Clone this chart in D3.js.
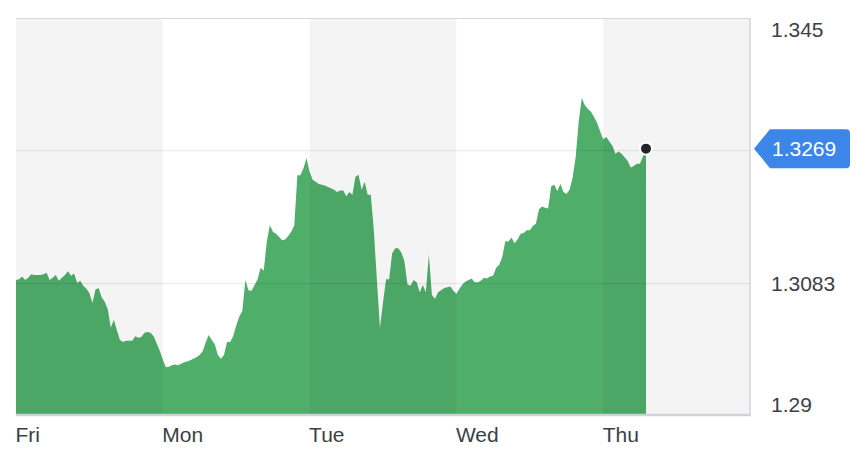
<!DOCTYPE html>
<html>
<head>
<meta charset="utf-8">
<script src="https://cdn.jsdelivr.net/npm/d3@7/dist/d3.min.js"></script>
<style>
  html, body { margin: 0; padding: 0; background: #fff; }
  svg { display: block; font-family: "Helvetica Neue", Helvetica, Arial, "Liberation Sans", sans-serif; }
</style>
</head>
<body>
<svg id="chart" width="868" height="462"></svg>
<script>
// ---- data ----
const dayLabels = ["Fri", "Mon", "Tue", "Wed", "Thu"];
const dayStarts = [0, 48, 96, 144, 192]; // in half-hour steps
const yTicks = [1.29, 1.30833, 1.32667, 1.345];
const yTickLabels = ["1.29", "1.3083", "", "1.345"];
const lastLabel = "1.3269";
// GBP/USD, one value every half hour
const rate = [
  1.3087,1.3088,1.3092,1.3087,1.3090,1.3095,1.3094,1.3094,1.3094,1.3095,
  1.3097,1.3087,1.3090,1.3094,1.3086,1.3090,1.3094,1.3099,1.3093,1.3096,
  1.3083,1.3086,1.3079,1.3075,1.3069,1.3055,1.3074,1.3076,1.3063,1.3057,
  1.3047,1.3021,1.3032,1.3017,1.3004,1.3001,1.3003,1.3003,1.3003,1.3009,
  1.3007,1.3008,1.3014,1.3015,1.3014,1.3009,1.2999,1.2989,1.2977,1.2966,
  1.2967,1.2969,1.2970,1.2969,1.2971,1.2973,1.2974,1.2976,1.2978,1.2980,
  1.2983,1.2988,1.3000,1.3011,1.3004,1.2998,1.2983,1.2978,1.2983,1.3001,
  1.3001,1.3009,1.3024,1.3036,1.3044,1.3087,1.3073,1.3072,1.3080,1.3088,
  1.3104,1.3100,1.3140,1.3163,1.3154,1.3151,1.3147,1.3142,1.3143,1.3148,
  1.3154,1.3163,1.3232,1.3232,1.3242,1.3256,1.3237,1.3226,1.3223,1.3220,
  1.3219,1.3218,1.3216,1.3214,1.3212,1.3209,1.3211,1.3211,1.3203,1.3209,
  1.3205,1.3230,1.3233,1.3212,1.3223,1.3205,1.3205,1.3156,1.3087,1.3021,
  1.3056,1.3088,1.3088,1.3124,1.3131,1.3131,1.3125,1.3113,1.3081,1.3079,
  1.3087,1.3084,1.3070,1.3080,1.3070,1.3122,1.3066,1.3061,1.3070,1.3073,
  1.3076,1.3077,1.3078,1.3072,1.3068,1.3075,1.3081,1.3085,1.3087,1.3089,
  1.3084,1.3084,1.3086,1.3090,1.3089,1.3092,1.3093,1.3104,1.3108,1.3119,
  1.3141,1.3140,1.3146,1.3138,1.3143,1.3151,1.3152,1.3156,1.3156,1.3162,
  1.3165,1.3185,1.3189,1.3187,1.3186,1.3217,1.3219,1.3210,1.3220,1.3209,
  1.3206,1.3212,1.3229,1.3257,1.3307,1.3339,1.3329,1.3324,1.3320,1.3313,
  1.3305,1.3293,1.3282,1.3285,1.3279,1.3273,1.3262,1.3265,1.3262,1.3257,
  1.3252,1.3243,1.3245,1.3248,1.3248,1.3258,1.3269
];

(function () {
// ---- layout ----
const pL = 16, pR = 750, pT = 18, pB = 415;
const FONT = "\"Helvetica Neue\", Helvetica, Arial, \"Liberation Sans\", sans-serif";
const svg = d3.select("#chart");
const x = d3.scaleLinear().domain([0, 240]).range([pL, pR]);
const y = d3.scaleLinear().domain([1.29, 1.345]).range([pB, pT]);

// area
const area = d3.area()
  .x((d, i) => x(i))
  .y0(y(1.29))
  .y1(d => y(d))
  .curve(d3.curveLinear);
svg.append("path").datum(rate)
  .attr("d", area)
  .attr("fill", "#50ae6b");

// alternating day bands (overlay)
svg.append("g").selectAll("rect")
  .data(dayStarts.filter((d, i) => i % 2 === 0))
  .join("rect")
  .attr("x", d => x(d))
  .attr("y", pT)
  .attr("width", d => x(d + 48) - x(d))
  .attr("height", pB - pT)
  .attr("fill", "rgba(0,0,0,0.045)");

// gridlines
svg.append("g").selectAll("line")
  .data(yTicks.slice(1, 3))
  .join("line")
  .attr("x1", pL).attr("x2", pR)
  .attr("y1", d => Math.round(y(d)) + 0.5).attr("y2", d => Math.round(y(d)) + 0.5)
  .attr("stroke", "rgba(0,0,0,0.07)")
  .attr("stroke-width", 1.5);

// frame lines
svg.append("line").attr("x1", pL).attr("x2", pR).attr("y1", pT + 0.5).attr("y2", pT + 0.5)
  .attr("stroke", "#d6d8dd").attr("stroke-width", 1);
svg.append("line").attr("x1", pR).attr("x2", pR).attr("y1", pT).attr("y2", pB + 1)
  .attr("stroke", "#d3d6dc").attr("stroke-width", 1.5);
svg.append("line").attr("x1", pL).attr("x2", pR + 0.75).attr("y1", pB).attr("y2", pB)
  .attr("stroke", "#d0d3d9").attr("stroke-width", 2.5);

// x axis (day labels)
const xAxis = d3.axisBottom(x)
  .tickValues(dayStarts)
  .tickFormat((d, i) => dayLabels[i])
  .tickSize(0)
  .tickPadding(0);
const gx = svg.append("g").attr("transform", `translate(0,${pB})`).call(xAxis);
gx.select(".domain").remove();
gx.selectAll("text")
  .attr("text-anchor", "start")
  .attr("dy", null)
  .attr("y", 27)
  .attr("x", -1)
  .attr("fill", "#3b3f46")
  .style("font-size", "21px")
  .style("font-family", FONT);

// y axis (right)
const yAxis = d3.axisRight(y)
  .tickValues(yTicks)
  .tickFormat((d, i) => yTickLabels[i])
  .tickSize(0)
  .tickPadding(0);
const gy = svg.append("g").attr("transform", `translate(${pR + 21},0)`).call(yAxis);
gy.select(".domain").remove();
gy.selectAll("text")
  .attr("x", 0)
  .attr("dy", (d, i) => i === 0 ? "-0.16em" : (i === yTicks.length - 1 ? "0.86em" : "0.35em"))
  .attr("fill", "#3b3f46")
  .style("font-size", "21px")
  .style("font-family", FONT);

// last value marker
const lastI = rate.length - 1;
const lx = x(lastI), ly = y(rate[lastI]);
svg.append("circle")
  .attr("cx", lx).attr("cy", ly).attr("r", 6)
  .attr("fill", "#222426").attr("stroke", "#fff").attr("stroke-width", 2);

// last value tag
const tagH = 39, tagL = pR + 4, tagBody = pR + 20, tagR = 850, rr = 4;
const tagPath = d3.path();
tagPath.moveTo(tagL, ly);
tagPath.lineTo(tagBody, ly - tagH / 2);
tagPath.lineTo(tagR - rr, ly - tagH / 2);
tagPath.quadraticCurveTo(tagR, ly - tagH / 2, tagR, ly - tagH / 2 + rr);
tagPath.lineTo(tagR, ly + tagH / 2 - rr);
tagPath.quadraticCurveTo(tagR, ly + tagH / 2, tagR - rr, ly + tagH / 2);
tagPath.lineTo(tagBody, ly + tagH / 2);
tagPath.closePath();
svg.append("path").attr("d", tagPath.toString()).attr("fill", "#3b86e8");
svg.append("text")
  .attr("x", pR + 22).attr("y", ly).attr("dy", "0.35em")
  .attr("fill", "#fff")
  .style("font-size", "21px")
  .style("font-family", FONT)
  .text(lastLabel);
})();
</script>
</body>
</html>
